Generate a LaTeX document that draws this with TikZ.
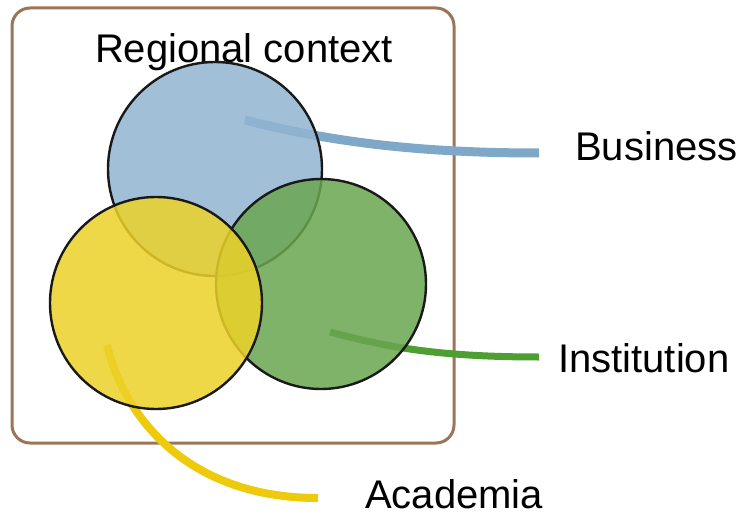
\documentclass[tikz,border=0pt]{standalone}
\usepackage{fontspec}
\setmainfont{Liberation Sans}
\usepackage{xcolor}
\usepackage{tikz}
\usetikzlibrary{arrows.meta}

\definecolor{regionbrown}{HTML}{9C7558}
\definecolor{bizblue}{HTML}{92B4D2}
\definecolor{bizline}{HTML}{7EA7C8}
\definecolor{instgreen}{HTML}{6AA650}
\definecolor{instline}{HTML}{4C9F30}
\definecolor{acadyellow}{HTML}{EDD229}
\definecolor{acadline}{HTML}{EDCB0C}

\begin{document}
\begin{tikzpicture}[
    x=1pt, y=-1pt,
    region/.style={draw=regionbrown, line width=3pt, rounded corners=18pt, fill=white},
    sector/.style={circle, draw=black!90, line width=2.4pt, minimum size=212pt, inner sep=0pt, fill opacity=0.85},
    label/.style={anchor=base west, inner sep=0pt, font=\fontsize{40}{48}\selectfont},
    link/.style={line cap=butt}
]
    \useasboundingbox (0,0) rectangle (750,519);

    % regional frame
    \draw[region] (12,8) rectangle (454,443);
    \node[label, anchor=base] (context) at (244,63) {Regional context};

    % labels
    \node[label] (business) at (575,160) {Business};
    \node[label] (institution) at (558,372) {Institution};
    \node[label] (academia) at (365,508) {Academia};

    % line ends
    \coordinate (bizin) at (245,120);
    \coordinate (bizout) at (539,153);
    \coordinate (instin) at (330,332);
    \coordinate (instout) at (539,357);
    \coordinate (acadin) at (107,345);
    \coordinate (acadout) at (318,498);

    \draw[link, draw=bizline, line width=9pt] (bizin) .. controls (330,142) and (420,153) .. (bizout);
    \draw[link, draw=instline, line width=7pt] (instin) .. controls (380,345) and (430,357) .. (instout);
    \draw[link, draw=acadline, line width=8pt] (acadin) .. controls (125,420) and (190,498) .. (acadout);

    % the three circles
    \node[sector, fill=bizblue, minimum size=214pt] (biz) at (215,169) {};
    \node[sector, fill=instgreen, minimum size=210pt] (inst) at (321,284) {};
    \node[sector, fill=acadyellow] (acad) at (156,303) {};
\end{tikzpicture}
\end{document}
